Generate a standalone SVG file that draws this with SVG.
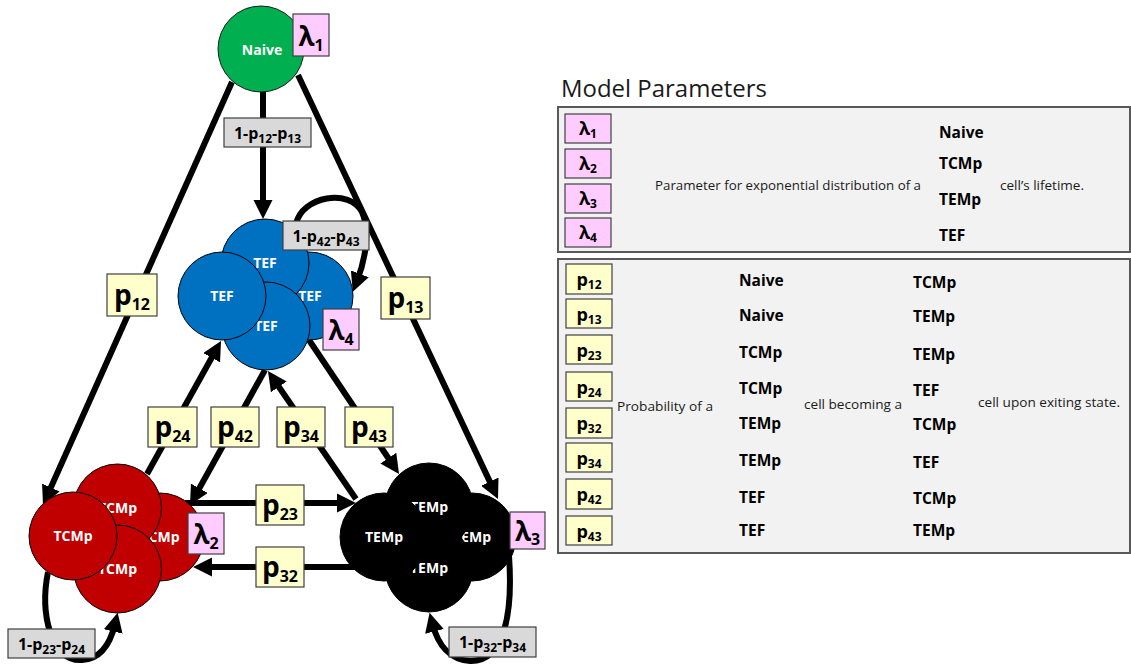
<svg xmlns="http://www.w3.org/2000/svg" width="1131" height="666" viewBox="0 0 1131 666">
  <defs>
    <style>
      text { font-family: "Open Sans", "Liberation Sans", sans-serif; }
      .edge { fill: none; stroke: #000; stroke-width: 6; marker-end: url(#ah); }
      .c-naive { fill: #00b050; stroke: #1a1a1a; stroke-width: 1; }
      .c-tef { fill: #0070c0; stroke: #000; stroke-width: 1; }
      .c-tcm { fill: #c00000; stroke: #000; stroke-width: 1; }
      .c-tem { fill: #000; stroke: #000; stroke-width: 1; }
      .ntxt { font-weight: bold; font-size: 14px; fill: #fff; text-anchor: middle; }
      .lam { fill: #ffccff; stroke: #404040; stroke-width: 1.2; }
      .pbox { fill: #ffffcc; stroke: #404040; stroke-width: 1.2; }
      .gbox { fill: #d9d9d9; stroke: #404040; stroke-width: 1.2; }
      .big { font-weight: bold; font-size: 28px; fill: #000; text-anchor: middle; }
      .bigsub { font-size: 16px; }
      .lbig { font-weight: bold; font-size: 26px; fill: #000; text-anchor: middle; }
      .glbl { font-weight: bold; font-size: 16px; fill: #000; text-anchor: middle; }
      .gsub { font-size: 12px; }
      .panel { fill: #f2f2f2; stroke: #595959; stroke-width: 2; }
      .tsym { font-weight: bold; font-size: 18px; fill: #000; text-anchor: middle; }
      .tsub { font-size: 12px; }
      .word { font-weight: bold; font-size: 15.5px; fill: #000; }
      .plain { font-size: 13px; fill: #1a1a1a; }
    </style>
    <marker id="ah" viewBox="0 0 10 10" refX="4" refY="5" markerWidth="3.2" markerHeight="3.2" orient="auto" markerUnits="strokeWidth">
      <path d="M0,0 L10,5 L0,10 z" fill="#000"/>
    </marker>
  </defs>

  <!-- transitions between cell states -->
  <g id="connectors">
    <path class="edge" d="M263,90 L263,207.5"/>
    <path class="edge" d="M232,82 L47.7,494.5"/>
    <path class="edge" d="M298,75 L493.1,488.6"/>
    <path class="edge" d="M147,474 L215.4,351"/>
    <path class="edge" d="M265,370 L195.6,495"/>
    <path class="edge" d="M356,499 L274.5,380.5"/>
    <path class="edge" d="M309,340 L392.6,464.5"/>
    <path class="edge" d="M185,503 L344.5,503"/>
    <path class="edge" d="M360,567 L204.5,567"/>
    <path class="edge" d="M296,224 C302,196 350,188 362,212 C370,230 366,258 357,281"/>
    <path class="edge" d="M48,572 C40,612 50,662 82,660 C100,659 110,645 115,624"/>
    <path class="edge" d="M509,556 C513,612 505,662 470,661 C450,660 438,645 432.5,624"/>
  </g>

  <!-- Naive state -->
  <g id="node-naive">
    <circle class="c-naive" cx="261" cy="49" r="43"/>
    <text class="ntxt" x="262" y="55">Naive</text>
    <rect class="lam" x="293" y="14" width="36" height="42"/>
    <text class="lbig" x="311" y="46">λ<tspan class="bigsub" dy="5">1</tspan></text>
  </g>

  <!-- TEF state -->
  <g id="node-tef">
    <circle class="c-tef" cx="309" cy="296" r="44"/>
    <text class="ntxt" x="310" y="301">TEF</text>
    <circle class="c-tef" cx="265" cy="263" r="44"/>
    <text class="ntxt" x="265" y="268">TEF</text>
    <circle class="c-tef" cx="266" cy="326" r="44"/>
    <text class="ntxt" x="266" y="331">TEF</text>
    <circle class="c-tef" cx="222" cy="296" r="44"/>
    <text class="ntxt" x="222" y="301">TEF</text>
    <rect class="lam" x="323" y="309" width="36" height="41"/>
    <text class="lbig" x="341" y="340">λ<tspan class="bigsub" dy="5">4</tspan></text>
  </g>

  <!-- TCMp state -->
  <g id="node-tcmp">
    <circle class="c-tcm" cx="160" cy="537" r="44"/>
    <text class="ntxt" x="160" y="542">TCMp</text>
    <circle class="c-tcm" cx="117.5" cy="508" r="44"/>
    <text class="ntxt" x="117.5" y="513">TCMp</text>
    <circle class="c-tcm" cx="117.5" cy="569" r="44"/>
    <text class="ntxt" x="117.5" y="574">TCMp</text>
    <circle class="c-tcm" cx="73" cy="536" r="44"/>
    <text class="ntxt" x="73" y="541">TCMp</text>
    <rect class="lam" x="188" y="513" width="36" height="41"/>
    <text class="lbig" x="206" y="544">λ<tspan class="bigsub" dy="5">2</tspan></text>
  </g>

  <!-- TEMp state -->
  <g id="node-temp">
    <circle class="c-tem" cx="472" cy="537" r="44"/>
    <text class="ntxt" x="472" y="542">TEMp</text>
    <circle class="c-tem" cx="429" cy="507" r="44"/>
    <text class="ntxt" x="429" y="512">TEMp</text>
    <circle class="c-tem" cx="429" cy="568" r="44"/>
    <text class="ntxt" x="429" y="573">TEMp</text>
    <circle class="c-tem" cx="384" cy="537" r="44"/>
    <text class="ntxt" x="384" y="542">TEMp</text>
    <rect class="lam" x="510" y="512" width="35" height="37"/>
    <text class="lbig" x="527.5" y="541">λ<tspan class="bigsub" dy="4">3</tspan></text>
  </g>

  <!-- transition probability labels -->
  <g id="edge-labels">
    <rect class="gbox" x="224" y="118" width="87" height="29"/>
    <text class="glbl" x="267.5" y="139">1-p<tspan class="gsub" dy="3.5">12</tspan><tspan dy="-3.5">-p</tspan><tspan class="gsub" dy="3.5">13</tspan></text>

    <rect class="gbox" x="283" y="221" width="86" height="29"/>
    <text class="glbl" x="326" y="242">1-p<tspan class="gsub" dy="3.5">42</tspan><tspan dy="-3.5">-p</tspan><tspan class="gsub" dy="3.5">43</tspan></text>

    <rect class="gbox" x="8" y="629" width="87" height="29"/>
    <text class="glbl" x="51.5" y="650">1-p<tspan class="gsub" dy="3.5">23</tspan><tspan dy="-3.5">-p</tspan><tspan class="gsub" dy="3.5">24</tspan></text>

    <rect class="gbox" x="449" y="627" width="87" height="30"/>
    <text class="glbl" x="492.5" y="648">1-p<tspan class="gsub" dy="3.5">32</tspan><tspan dy="-3.5">-p</tspan><tspan class="gsub" dy="3.5">34</tspan></text>

    <rect class="pbox" x="107" y="274" width="50" height="42"/>
    <text class="big" x="132" y="305">p<tspan class="bigsub" dy="5">12</tspan></text>

    <rect class="pbox" x="381" y="277" width="49" height="42"/>
    <text class="big" x="405.5" y="308">p<tspan class="bigsub" dy="5">13</tspan></text>

    <rect class="pbox" x="148" y="407" width="49" height="40"/>
    <text class="big" x="172.5" y="437">p<tspan class="bigsub" dy="5">24</tspan></text>

    <rect class="pbox" x="211" y="407" width="48" height="40"/>
    <text class="big" x="235" y="437">p<tspan class="bigsub" dy="5">42</tspan></text>

    <rect class="pbox" x="277" y="407" width="48" height="40"/>
    <text class="big" x="301" y="437">p<tspan class="bigsub" dy="5">34</tspan></text>

    <rect class="pbox" x="345" y="407" width="48" height="40"/>
    <text class="big" x="369" y="437">p<tspan class="bigsub" dy="5">43</tspan></text>

    <rect class="pbox" x="256" y="485" width="48" height="40"/>
    <text class="big" x="280" y="515">p<tspan class="bigsub" dy="5">23</tspan></text>

    <rect class="pbox" x="256" y="547" width="48" height="40"/>
    <text class="big" x="280" y="577">p<tspan class="bigsub" dy="5">32</tspan></text>
  </g>

  <!-- parameter legend -->
  <g id="legend">
    <text x="561" y="97" font-size="23" fill="#1a1a1a" textLength="206" lengthAdjust="spacingAndGlyphs">Model Parameters</text>

    <rect class="panel" x="558" y="107" width="572" height="145"/>
    <rect class="lam" x="565" y="114" width="46" height="29"/>
    <text class="tsym" x="588" y="135">λ<tspan class="tsub" dy="3">1</tspan></text>
    <rect class="lam" x="565" y="149" width="46" height="29"/>
    <text class="tsym" x="588" y="170">λ<tspan class="tsub" dy="3">2</tspan></text>
    <rect class="lam" x="565" y="184" width="46" height="29"/>
    <text class="tsym" x="588" y="205">λ<tspan class="tsub" dy="3">3</tspan></text>
    <rect class="lam" x="565" y="218" width="46" height="29"/>
    <text class="tsym" x="588" y="239">λ<tspan class="tsub" dy="3">4</tspan></text>
    <text class="plain" x="655" y="190" textLength="266" lengthAdjust="spacingAndGlyphs">Parameter for exponential distribution of a</text>
    <text class="word" x="939" y="138">Naive</text>
    <text class="word" x="939" y="169">TCMp</text>
    <text class="word" x="939" y="205">TEMp</text>
    <text class="word" x="939" y="241">TEF</text>
    <text class="plain" x="1000" y="190" textLength="84" lengthAdjust="spacingAndGlyphs">cell’s lifetime.</text>

    <rect class="panel" x="558" y="259" width="572" height="294"/>
    <rect class="pbox" x="566" y="264" width="46" height="30"/>
    <text class="tsym" x="589" y="286">p<tspan class="tsub" dy="3">12</tspan></text>
    <rect class="pbox" x="566" y="299" width="46" height="29"/>
    <text class="tsym" x="589" y="321">p<tspan class="tsub" dy="3">13</tspan></text>
    <rect class="pbox" x="566" y="335" width="46" height="29"/>
    <text class="tsym" x="589" y="357">p<tspan class="tsub" dy="3">23</tspan></text>
    <rect class="pbox" x="566" y="372" width="46" height="29"/>
    <text class="tsym" x="589" y="394">p<tspan class="tsub" dy="3">24</tspan></text>
    <rect class="pbox" x="566" y="408" width="46" height="30"/>
    <text class="tsym" x="589" y="430">p<tspan class="tsub" dy="3">32</tspan></text>
    <rect class="pbox" x="566" y="443" width="46" height="29"/>
    <text class="tsym" x="589" y="465">p<tspan class="tsub" dy="3">34</tspan></text>
    <rect class="pbox" x="566" y="479" width="46" height="30"/>
    <text class="tsym" x="589" y="501">p<tspan class="tsub" dy="3">42</tspan></text>
    <rect class="pbox" x="566" y="516" width="46" height="29"/>
    <text class="tsym" x="589" y="538">p<tspan class="tsub" dy="3">43</tspan></text>

    <text class="plain" x="617" y="411" textLength="96" lengthAdjust="spacingAndGlyphs">Probability of a</text>
    <text class="plain" x="804" y="409" textLength="98" lengthAdjust="spacingAndGlyphs">cell becoming a</text>
    <text class="plain" x="978" y="407" textLength="142" lengthAdjust="spacingAndGlyphs">cell upon exiting state.</text>

    <text class="word" x="739" y="286">Naive</text>
    <text class="word" x="739" y="321">Naive</text>
    <text class="word" x="739" y="358">TCMp</text>
    <text class="word" x="739" y="394">TCMp</text>
    <text class="word" x="739" y="429">TEMp</text>
    <text class="word" x="739" y="466">TEMp</text>
    <text class="word" x="739" y="503">TEF</text>
    <text class="word" x="739" y="536">TEF</text>

    <text class="word" x="913" y="288">TCMp</text>
    <text class="word" x="913" y="322">TEMp</text>
    <text class="word" x="913" y="360">TEMp</text>
    <text class="word" x="913" y="396">TEF</text>
    <text class="word" x="913" y="430">TCMp</text>
    <text class="word" x="913" y="468">TEF</text>
    <text class="word" x="913" y="504">TCMp</text>
    <text class="word" x="913" y="536">TEMp</text>
  </g>
</svg>
